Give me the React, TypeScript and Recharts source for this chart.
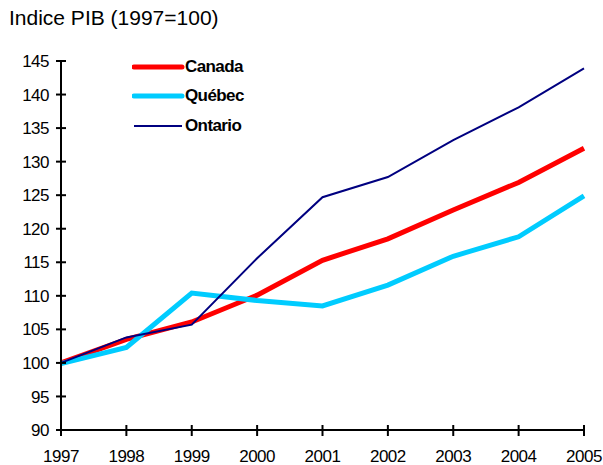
import React from 'react';
import { LineChart, Line, XAxis, YAxis } from 'recharts';

const years = [1997, 1998, 1999, 2000, 2001, 2002, 2003, 2004, 2005];
const canada = [100, 103.5, 106.1, 110.1, 115.3, 118.5, 122.8, 126.9, 132];
const quebec = [99.9, 102.3, 110.4, 109.3, 108.5, 111.6, 115.9, 118.8, 124.9];
const ontario = [100, 103.8, 105.7, 115.6, 124.7, 127.7, 133.2, 138.1, 143.9];
const yTicks = [90, 95, 100, 105, 110, 115, 120, 125, 130, 135, 140, 145];
const seriesNames = ['Canada', 'Québec', 'Ontario'];
const seriesColors = ['#FF0000', '#00CCFF', '#000080'];
const seriesWidths = [5, 5, 2];
const title = 'Indice PIB (1997=100)';

const data = years.map((y, i) => ({ year: y, Canada: canada[i], 'Québec': quebec[i], Ontario: ontario[i] }));

const FONT = 'Arial, "Liberation Sans", sans-serif';

const YTick = (props: any) => {
  const { x, y, payload } = props;
  return (
    <g>
      <line x1={x - 5} x2={x + 5} y1={y} y2={y} stroke="#000" strokeWidth={2} />
      <text x={x - 12} y={y} dy="0.36em" textAnchor="end" fontSize={17} letterSpacing={-0.5} fontFamily={FONT} fill="#000">
        {payload.value}
      </text>
    </g>
  );
};

const XTick = (props: any) => {
  const { x, y, payload } = props;
  return (
    <g>
      <line x1={x} x2={x} y1={y - 5} y2={y + 6} stroke="#000" strokeWidth={2} />
      <text x={x} y={y + 32} textAnchor="middle" fontSize={17} letterSpacing={-0.5} fontFamily={FONT} fill="#000">
        {payload.value}
      </text>
    </g>
  );
};

export default function App() {
  return (
    <div style={{ position: 'absolute', left: 0, top: 0, width: 603, height: 465, background: '#fff' }}>
      <div style={{ position: 'absolute', left: 9, top: 6, fontFamily: FONT, fontSize: 21, color: '#000' }}>{title}</div>
      <LineChart width={603} height={465} data={data} margin={{ top: 61, right: 19, bottom: 0, left: 0 }}>
        <XAxis
          dataKey="year"
          type="number"
          domain={[1997, 2005]}
          ticks={years}
          height={35}
          tickSize={0}
          tickMargin={0}
          tickLine={false}
          axisLine={{ stroke: '#000', strokeWidth: 2 }}
          tick={<XTick />}
          interval={0}
        />
        <YAxis
          type="number"
          domain={[90, 145]}
          ticks={yTicks}
          width={61}
          tickSize={0}
          tickMargin={0}
          tickLine={false}
          axisLine={{ stroke: '#000', strokeWidth: 2 }}
          tick={<YTick />}
          interval={0}
        />
        {seriesNames.map((n, i) => (
          <Line key={n} dataKey={n} stroke={seriesColors[i]} strokeWidth={seriesWidths[i]} dot={false} isAnimationActive={false} />
        ))}
      </LineChart>
      <div style={{ position: 'absolute', left: 132, top: 52, fontFamily: FONT }}>
        {seriesNames.map((n, i) => (
          <div key={n} style={{ display: 'flex', alignItems: 'center', height: 29.5 }}>
            <svg width={53} height={10}>
              <line x1={2} x2={50} y1={5} y2={5} stroke={seriesColors[i]} strokeWidth={seriesWidths[i] === 2 ? 2 : 5} strokeLinecap={seriesWidths[i] === 2 ? 'butt' : 'round'} />
            </svg>
            <span style={{ fontWeight: 'bold', fontSize: 17, letterSpacing: -0.6, color: '#000' }}>{n}</span>
          </div>
        ))}
      </div>
    </div>
  );
}
